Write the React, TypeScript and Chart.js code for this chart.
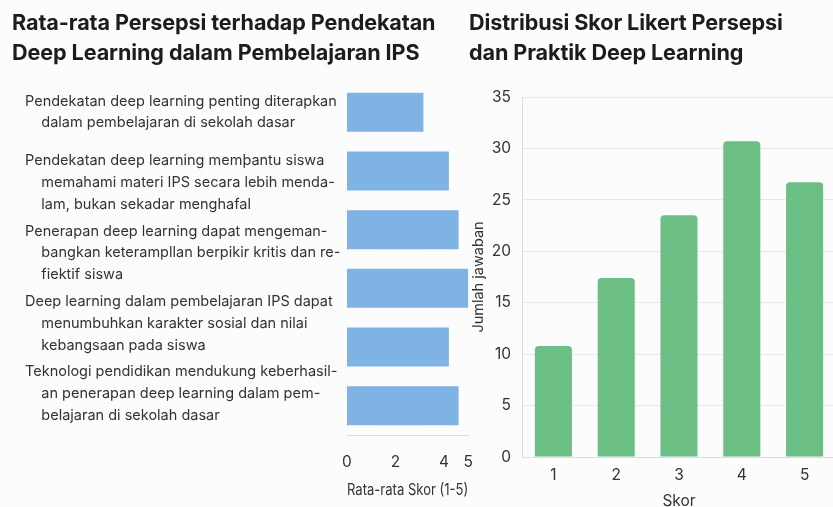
import React, { useEffect, useRef } from "react";
import { Chart, registerables } from "chart.js";

Chart.register(...registerables);

const leftTitle = ["Rata-rata Persepsi terhadap Pendekatan", "Deep Learning dalam Pembelajaran IPS"];
const rightTitle = ["Distribusi Skor Likert Persepsi", "dan Praktik Deep Learning"];

const statementLabels: string[][] = [
  ["Pendekatan deep learning penting diterapkan", "dalam pembelajaran di sekolah dasar"],
  ["Pendekatan deep learning memþantu siswa", "memahami materi IPS secara lebih menda-", "lam, bukan sekadar menghafal"],
  ["Penerapan deep learning dapat mengeman-", "bangkan keterampllan berpikir kritis dan re-", "fiektif siswa"],
  ["Deep learning dalam pembelajaran IPS dapat", "menumbuhkan karakter sosial dan nilai", "kebangsaan pada siswa"],
  ["Teknologi pendidikan mendukung keberhasil-", "an penerapan deep learning dalam pem-", "belajaran di sekolah dasar"],
];
const barSlots = ["b1", "b2", "b3", "b4", "b5", "b6"];
const meanScores = [3.15, 4.2, 4.6, 5.0, 4.2, 4.6];
const meanTicks = [0, 2, 4, 5];
const meanAxisTitle = "Rata-rata Skor (1-5)";

const likertScores = ["1", "2", "3", "4", "5"];
const likertCounts = [10.8, 17.4, 23.5, 30.7, 26.7];
const countAxisTitle = "Jumlah jawaban";
const scoreAxisTitle = "Skor";

const FONT = "Inter, 'Liberation Sans', sans-serif";
const TEXT = "#333333";

export default function App() {
  const leftRef = useRef<HTMLCanvasElement>(null);
  const rightRef = useRef<HTMLCanvasElement>(null);

  useEffect(() => {
    const left = new Chart(leftRef.current!, {
      type: "bar",
      data: {
        labels: barSlots,
        datasets: [
          {
            data: meanScores,
            backgroundColor: "#7fb2e5",
            barPercentage: 0.665,
            categoryPercentage: 1,
          },
        ],
      },
      options: {
        indexAxis: "y",
        animation: false,
        responsive: false,
        maintainAspectRatio: false,
        layout: { padding: { left: 25, top: 83, right: 6, bottom: 0 } },
        plugins: { legend: { display: false }, tooltip: { enabled: false } },
        scales: {
          x: {
            type: "linear",
            min: 0,
            max: 5,
            afterBuildTicks: (s: any) => {
              s.ticks = meanTicks.map((v) => ({ value: v }));
            },
            afterFit: (s: any) => {
              s.height = 72;
            },
            grid: { display: false, drawTicks: true, tickLength: 15 },
            border: { display: true, color: "#dddddd" },
            ticks: { padding: 3, color: TEXT, font: { family: FONT, size: 15.5 } },
            title: {
              display: true,
              text: meanAxisTitle,
              color: TEXT,
              font: { family: FONT, size: 16 },
              padding: { top: 0, bottom: 7 },
            },
          },
          y: {
            type: "category",
            position: "left",
            ticks: { display: false },
            grid: { display: false, drawTicks: false },
            border: { display: false },
            afterFit: (s: any) => {
              s.width = 0;
            },
          },
          yText: {
            type: "category",
            position: "left",
            labels: statementLabels.map((lines) =>
              lines.map((l, i) => (i === 0 ? l : "    " + l))
            ) as any,
            offset: true,
            grid: { display: false, drawTicks: false },
            border: { display: false },
            ticks: {
              crossAlign: "far",
              color: TEXT,
              labelOffset: -6,
              font: { family: FONT, size: 14.5, lineHeight: 1.5 },
              autoSkip: false,
            },
            afterFit: (s: any) => {
              s.width = 322;
            },
          },
        },
      } as any,
    });

    const right = new Chart(rightRef.current!, {
      type: "bar",
      data: {
        labels: likertScores,
        datasets: [
          {
            data: likertCounts,
            backgroundColor: "#6cbf84",
            borderRadius: 4,
            barPercentage: 0.59,
            categoryPercentage: 1,
          },
        ],
      },
      options: {
        animation: false,
        responsive: false,
        maintainAspectRatio: false,
        layout: { padding: { left: 8, top: 97, right: 4, bottom: 0 } },
        plugins: { legend: { display: false }, tooltip: { enabled: false } },
        scales: {
          x: {
            grid: { display: false, drawTicks: true, tickLength: 7 },
            border: { display: true, color: "#dddddd" },
            ticks: { padding: 2, color: TEXT, font: { family: FONT, size: 15.5 } },
            title: {
              display: true,
              text: scoreAxisTitle,
              color: TEXT,
              font: { family: FONT, size: 15.5 },
              padding: { top: 0, bottom: 9 },
            },
            afterFit: (s: any) => {
              s.height = 63;
            },
          },
          y: {
            min: 0,
            max: 35,
            ticks: { stepSize: 5, padding: 11, color: TEXT, font: { family: FONT, size: 15.5 } },
            grid: { color: "#e8e8e8", drawTicks: false },
            border: { display: true, color: "#dddddd" },
            title: {
              display: true,
              text: countAxisTitle,
              color: TEXT,
              font: { family: FONT, size: 14.5 },
              padding: { top: 0, bottom: 0 },
            },
            afterFit: (s: any) => {
              s.width = 52;
            },
          },
        },
      } as any,
    });

    return () => {
      left.destroy();
      right.destroy();
    };
  }, []);

  const titleStyle: React.CSSProperties = {
    position: "absolute",
    top: 7,
    fontFamily: FONT,
    fontWeight: 700,
    fontSize: 21.6,
    lineHeight: "30px",
    color: "#1c1c1c",
    whiteSpace: "nowrap",
    letterSpacing: "-0.1px",
  };

  return (
    <div
      style={{
        position: "absolute",
        left: 0,
        top: 0,
        width: 833,
        height: 507,
        overflow: "hidden",
        background: "#fcfcfc",
      }}
    >
      <canvas
        ref={leftRef}
        width={476}
        height={507}
        style={{ position: "absolute", left: 0, top: 0, width: 476, height: 507 }}
      />
      <canvas
        ref={rightRef}
        width={378}
        height={520}
        style={{ position: "absolute", left: 462, top: 0, width: 378, height: 520 }}
      />
      <div style={{ ...titleStyle, left: 12 }}>
        {leftTitle.map((t) => (
          <div key={t}>{t}</div>
        ))}
      </div>
      <div style={{ ...titleStyle, left: 469 }}>
        {rightTitle.map((t) => (
          <div key={t}>{t}</div>
        ))}
      </div>
    </div>
  );
}
